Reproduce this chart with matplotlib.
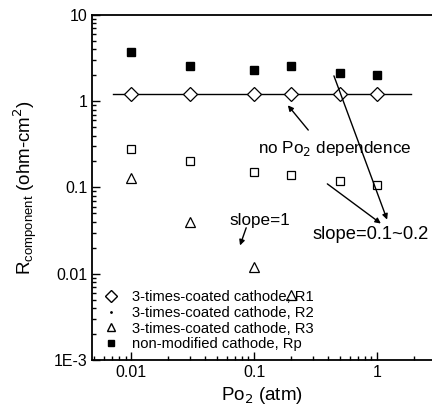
import numpy as np
import matplotlib.pyplot as plt
from matplotlib.lines import Line2D
from matplotlib.ticker import LogLocator, NullFormatter, FixedLocator, FixedFormatter

plt.rcParams['font.family'] = ['Liberation Sans', 'DejaVu Sans']

# oxygen partial pressure (atm)
po2 = [0.01, 0.03, 0.1, 0.2, 0.5, 1]

# resistance components (ohm-cm2)
r1 = [1.2, 1.2, 1.2, 1.2, 1.2, 1.2]
r2 = [0.28, 0.20, 0.153, 0.138, 0.12, 0.108]
r3_x = [0.01, 0.03, 0.1, 0.2]
r3 = [0.127, 0.040, 0.0118, 0.0057]
rp = [3.7, 2.55, 2.3, 2.55, 2.1, 2.0]

# fit line for R1 (no Po2 dependence)
fit_x = [0.0071, 1.9]
fit_y = [1.2, 1.2]

labels = ['3-times-coated cathode, R1', '3-times-coated cathode, R2',
          '3-times-coated cathode, R3', 'non-modified cathode, Rp']

fig = plt.figure(figsize=(4.32, 4.17), dpi=100)
ax = fig.add_axes([0.213, 0.137, 0.787, 0.827])

ax.plot(fit_x, fit_y, color='black', lw=1.0)
ax.plot(po2, r1, ls='none', marker='D', ms=7, mfc='white', mec='black', mew=0.9)
ax.plot(po2, r2, ls='none', marker='s', ms=6, mfc='white', mec='black', mew=0.9)
ax.plot(r3_x, r3, ls='none', marker='^', ms=7, mfc='white', mec='black', mew=0.9)
ax.plot(po2, rp, ls='none', marker='s', ms=6, mfc='black', mec='black')

ax.set_xscale('log')
ax.set_yscale('log')
ax.set_xlim(0.0048, 2.8)
ax.set_ylim(1e-3, 10)

ax.yaxis.set_major_locator(FixedLocator([1e-3, 1e-2, 0.1, 1, 10]))
ax.yaxis.set_major_formatter(FixedFormatter(['1E-3', '0.01', '0.1', '1', '10']))
ax.xaxis.set_major_locator(FixedLocator([0.01, 0.1, 1]))
ax.xaxis.set_major_formatter(FixedFormatter(['0.01', '0.1', '1']))
ax.xaxis.set_minor_locator(LogLocator(base=10, subs=np.arange(2, 10)))
ax.yaxis.set_minor_locator(LogLocator(base=10, subs=np.arange(2, 10)))
ax.xaxis.set_minor_formatter(NullFormatter())
ax.yaxis.set_minor_formatter(NullFormatter())
ax.tick_params(which='both', direction='in', labelsize=11.5, width=1)
ax.tick_params(which='major', length=6)
ax.tick_params(which='minor', length=3)
ax.spines['right'].set_visible(False)
for s in ['left', 'bottom', 'top']:
    ax.spines[s].set_linewidth(1.3)

ax.set_xlabel('Po$_2$ (atm)', fontsize=13.5)
ax.set_ylabel('R$_{\\mathregular{component}}$ (ohm-cm$^2$)', fontsize=13.5, labelpad=10)

# annotations
ax.text(0.108, 0.285, 'no Po$_2$ dependence', fontsize=12.3, va='center')
ax.annotate('', xy=(0.182, 0.95), xytext=(0.285, 0.437),
            arrowprops=dict(arrowstyle='-|>', color='black', lw=1, mutation_scale=8))
ax.text(0.0626, 0.0417, 'slope=1', fontsize=12.3, va='center')
ax.annotate('', xy=(0.0755, 0.0198), xytext=(0.0877, 0.0365),
            arrowprops=dict(arrowstyle='-|>', color='black', lw=1, mutation_scale=8))
ax.text(0.297, 0.0287, 'slope=0.1~0.2', fontsize=13.2, va='center')
ax.annotate('', xy=(1.12, 0.0365), xytext=(0.378, 0.115),
            arrowprops=dict(arrowstyle='-|>', color='black', lw=1, mutation_scale=8))
ax.annotate('', xy=(1.23, 0.0395), xytext=(0.438, 2.11),
            arrowprops=dict(arrowstyle='-|>', color='black', lw=1, mutation_scale=8))

handles = [
    Line2D([], [], ls='none', marker='D', ms=6, mfc='white', mec='black'),
    Line2D([], [], ls='none', marker='.', ms=2, color='black'),
    Line2D([], [], ls='none', marker='^', ms=6, mfc='white', mec='black'),
    Line2D([], [], ls='none', marker='s', ms=5, mfc='black', mec='black'),
]
ax.legend(handles, labels, loc='lower left', bbox_to_anchor=(0.0, -0.005),
          frameon=False, fontsize=10.6, handlelength=1.2, handletextpad=0.8,
          labelspacing=0.12, borderaxespad=0.3)

fig.savefig('out.png', dpi=100)
